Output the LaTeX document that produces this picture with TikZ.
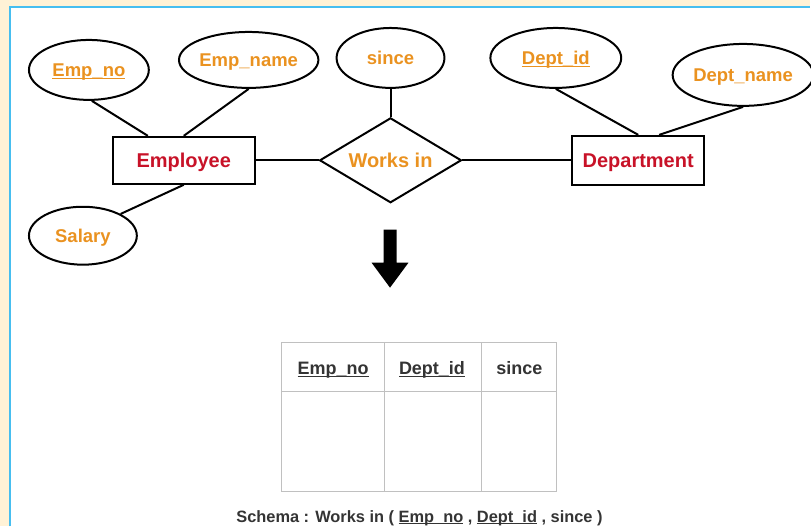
\documentclass[tikz,border=0pt]{standalone}
\usepackage{fontspec}
\setmainfont{Liberation Sans}
\usetikzlibrary{shapes.geometric}

\definecolor{pagecream}{RGB}{255,242,214}
\definecolor{frameblue}{RGB}{70,190,240}
\definecolor{attrorange}{RGB}{234,146,32}
\definecolor{entityred}{RGB}{200,18,40}
\definecolor{gridgray}{RGB}{192,192,192}
\definecolor{inkdark}{RGB}{52,52,52}

% underline that sits just below the baseline (key attributes)
\newsavebox\keybox
\newcommand\keyline[1]{\sbox\keybox{#1}\rlap{\rule[-0.13em]{\wd\keybox}{0.075em}}\usebox\keybox}

\tikzset{
  shapeline/.style={draw=black, line width=2pt},
  attr/.style={shapeline, ellipse, inner sep=0pt, text=attrorange,
    font=\fontsize{18.5}{20}\selectfont\bfseries, text height=13.3pt, text depth=0pt},
  entity/.style={shapeline, rectangle, inner sep=0pt, text=entityred,
    font=\fontsize{20}{22}\selectfont\bfseries, text height=14.4pt, text depth=0pt},
  relation/.style={shapeline, diamond, aspect=1.67, inner sep=0pt, text=attrorange,
    font=\fontsize{20}{22}\selectfont\bfseries, text height=14.4pt, text depth=0pt},
  link/.style={line width=2pt, black},
  cell/.style={font=\fontsize{18}{20}\selectfont\bfseries, text=inkdark, inner sep=0pt, anchor=base},
  gridline/.style={draw=gridgray, line width=1.3pt}
}

\begin{document}
\begin{tikzpicture}[x=1pt, y=-1pt]
  % page background and frame
  \fill[pagecream] (0,0) rectangle (811,527);
  \fill[white] (10.5,7.5) rectangle (811,527);
  \draw[frameblue, line width=2pt] (10.5,527) -- (10.5,7.5) -- (811,7.5);
  \useasboundingbox (0,0) rectangle (811,527);

  % ER diagram: entities and relationship
  \node[entity, minimum width=142pt, minimum height=47pt] (emp) at (184,160.5) {Employee};
  \node[entity, minimum width=132pt, minimum height=49pt] (dept) at (639,160.5) {Department};
  \node[relation, minimum width=142pt, minimum height=85pt] (works) at (391,160.5) {Works in};

  % attributes
  \node[attr, minimum width=120pt, minimum height=60pt] (empno) at (89,70) {\keyline{Emp\_no}};
  \node[attr, minimum width=132pt, minimum height=56pt] (empname) at (249,60) {Emp\_name};
  \node[attr, minimum width=108pt, minimum height=58pt] (salary) at (83,236) {Salary};
  \node[attr, minimum width=108pt, minimum height=60pt] (since) at (391,58) {since};
  \node[attr, minimum width=131pt, minimum height=60pt] (deptid) at (556.5,58) {\keyline{Dept\_id}};
  \node[attr, minimum width=130pt, minimum height=62pt] (deptname) at (744,75) {Dept\_name};

  % connectors
  \draw[link] ([xshift=3pt]empno.south) -- ([xshift=-36pt]emp.north);
  \draw[link] (empname.south) -- (emp.north);
  \draw[link] (salary.30) -- (emp.south);
  \draw[link] (emp.east) -- (works.west);
  \draw[link] (since.south) -- (works.north);
  \draw[link] (works.east) -- (dept.west);
  \draw[link] (deptid.south) -- (dept.north);
  \draw[link] (deptname.south) -- ([xshift=21pt]dept.north);

  % block arrow
  \fill[black] (384,230) -- (397,230) -- (397,263) -- (409,263) -- (390.5,288)
               -- (372,263) -- (384,263) -- cycle;

  % relation table
  \draw[gridline] (282,343) rectangle (557,492);
  \draw[gridline] (282,392) -- (557,392);
  \draw[gridline] (385,343) -- (385,492);
  \draw[gridline] (482,343) -- (482,492);
  \node[cell] (h1) at (333.5,375) {\keyline{Emp\_no}};
  \node[cell] (h2) at (432.5,375) {\keyline{Dept\_id}};
  \node[cell] (h3) at (520,375) {since};

  % schema line
  \node[font=\fontsize{16.4}{18}\selectfont\bfseries, text=inkdark, inner sep=0pt, anchor=base] (schema) at (420,523)
    {Schema : Works in ( \keyline{Emp\_no} , \keyline{Dept\_id} , since )};
\end{tikzpicture}
\end{document}
